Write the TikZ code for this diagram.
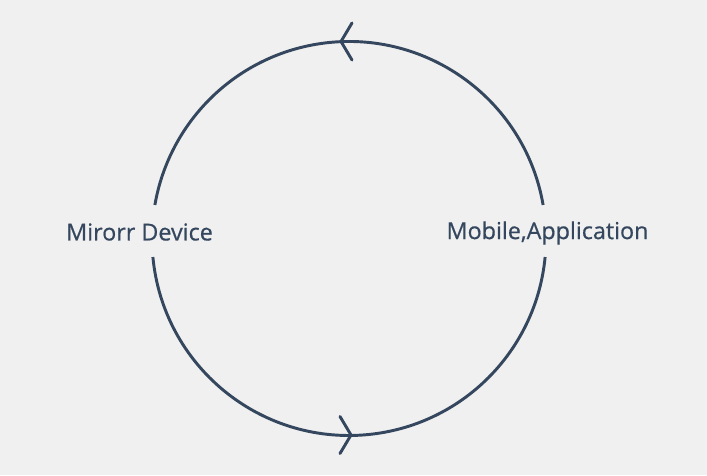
\documentclass[tikz,border=0pt]{standalone}
\usepackage{fontspec}
\setmainfont[FakeBold=0.6]{Open Sans}
\definecolor{ink}{RGB}{52,71,94}
\definecolor{bg}{RGB}{240,240,240}
\begin{document}
\begin{tikzpicture}[x=0.75pt,y=0.75pt,
  ring/.style={draw=ink,line width=2.2pt},
  chev/.style={draw=ink,line width=2.2pt,line cap=round,line join=miter},
  lbl/.style={text=ink,font=\fontsize{17.5}{20}\selectfont,inner sep=0pt}]
\fill[bg] (0,0) rectangle (707,475);
\useasboundingbox (0,0) rectangle (707,475);
\coordinate (c) at (349,236.5);
\node[lbl] (mirror) at (139.5,243) {Mirorr Device};
\node[lbl] (mobile) at (547.5,242) {Mobile,Application};
% upper arc
\draw[ring] ([shift={(9.8:197)}]c) arc[start angle=9.8,end angle=170.2,radius=197];
% lower arc
\draw[ring] ([shift={(185.4:197)}]c) arc[start angle=185.4,end angle=354.6,radius=197];
\coordinate (toptip) at (341,433.5);
\coordinate (bottip) at (351,40);
\draw[chev] ([shift={(11,18.5)}]toptip) -- (toptip) -- ([shift={(11,-18.5)}]toptip);
\draw[chev] ([shift={(-11,18.5)}]bottip) -- (bottip) -- ([shift={(-11,-18.5)}]bottip);
\end{tikzpicture}
\end{document}
